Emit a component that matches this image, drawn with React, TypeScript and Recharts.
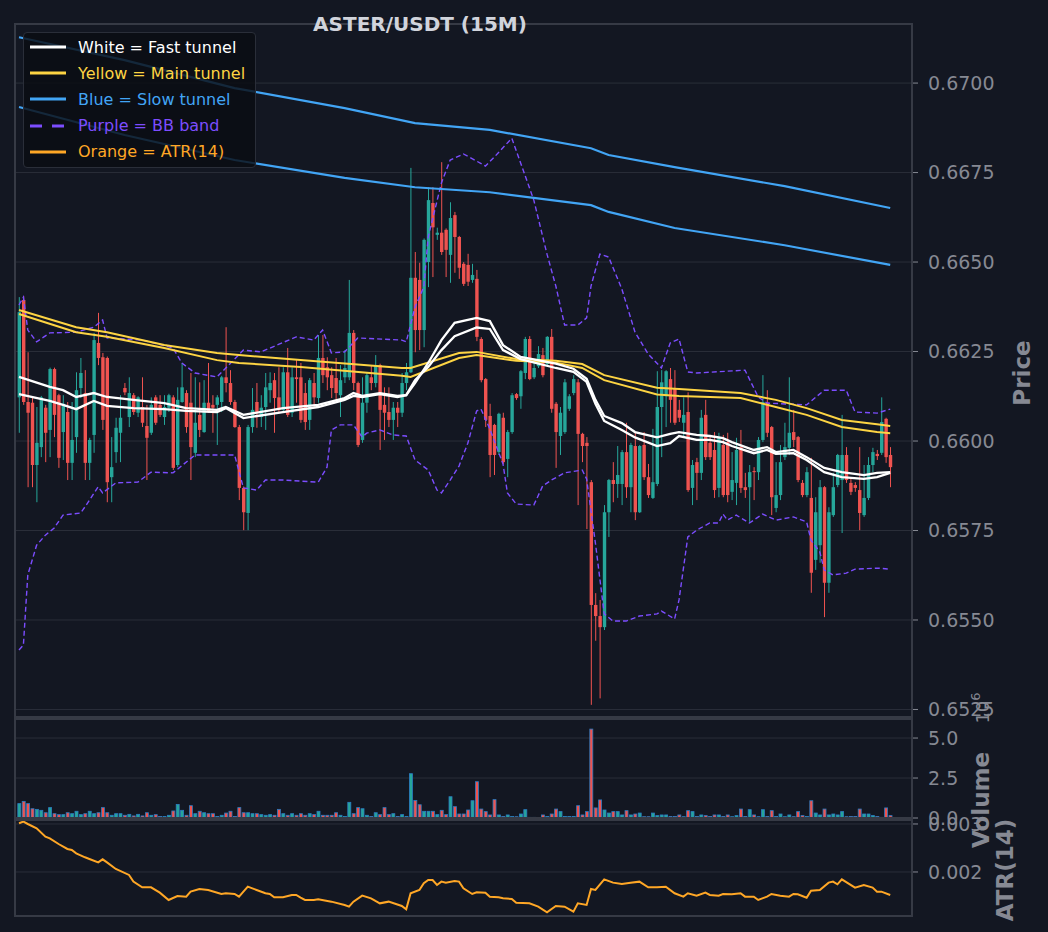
// ASTER/USDT 15m: candles with tunnels and BB, volume and ATR(14) panels stacked below.
import { Bar, CartesianGrid, ComposedChart, Line, XAxis, YAxis } from 'recharts';

// [open, high, low, close] per 15m candle
const candles: [number, number, number, number][] = [
  [.66122,.66402,.66023,.66360],[.66394,.66405,.66101,.66109],[.66109,.66248,.65871,.66079],[.66107,.66122,.65871,.65933],
  [.65933,.66095,.65829,.65995],[.65983,.66126,.65955,.66122],[.66093,.66101,.65941,.66023],[.66031,.66205,.65955,.66201],
  [.66201,.66205,.66011,.66073],[.66128,.66132,.65925,.65953],[.66025,.66128,.65947,.66104],[.66081,.66109,.65891,.65939],
  [.65939,.66109,.65891,.66003],[.66011,.66192,.65967,.66142],[.66148,.66232,.66120,.66190],[.66134,.66198,.65891,.65939],
  [.65939,.66009,.65891,.66003],[.66017,.66302,.65967,.66282],[.66274,.66358,.66212,.66232],[.66234,.66246,.66031,.66059],
  [.66232,.66236,.65829,.65885],[.65899,.66011,.65829,.65927],[.65969,.66065,.65939,.66037],[.66023,.66128,.65941,.66065],
  [.66148,.66162,.66128,.66136],[.66067,.66178,.66039,.66134],[.66128,.66134,.66073,.66081],[.66079,.66125,.66067,.66122],
  [.66095,.66178,.66039,.66051],[.66042,.66101,.65891,.66009],[.66023,.66122,.66017,.66101],[.66122,.66128,.66045,.66051],
  [.66101,.66128,.66067,.66073],[.66067,.66128,.66045,.66095],[.66093,.66132,.66081,.66128],[.66122,.66128,.65919,.65925],
  [.65933,.66150,.65927,.66115],[.66109,.66218,.66107,.66150],[.66134,.66142,.66023,.66039],[.66107,.66190,.65891,.65983],
  [.65967,.66178,.65955,.66051],[.66073,.66164,.66011,.66031],[.66025,.66170,.66023,.66107],[.66107,.66218,.66079,.66081],
  [.66101,.66128,.66023,.66093],[.66101,.66128,.65989,.66122],[.66109,.66182,.66081,.66178],[.66178,.66318,.66136,.66162],
  [.66162,.66198,.66101,.66109],[.66109,.66115,.66037,.66039],[.66039,.66045,.65835,.65869],[.65869,.65873,.65751,.65801],
  [.65799,.66045,.65751,.66039],[.66039,.66148,.66023,.66087],[.66109,.66162,.66037,.66079],[.66067,.66128,.66039,.66093],
  [.66095,.66190,.66031,.66150],[.66142,.66192,.66107,.66162],[.66170,.66190,.66023,.66120],[.66122,.66206,.66079,.66087],
  [.66087,.66206,.66079,.66192],[.66192,.66260,.66067,.66073],[.66079,.66206,.66067,.66178],[.66178,.66226,.66107,.66173],
  [.66178,.66218,.66051,.66059],[.66134,.66162,.66031,.66053],[.66059,.66176,.66031,.66170],[.66162,.66190,.66095,.66122],
  [.66120,.66296,.66107,.66232],[.66232,.66296,.66162,.66184],[.66206,.66234,.66142,.66178],[.66184,.66206,.66120,.66148],
  [.66176,.66232,.66115,.66134],[.66128,.66212,.66067,.66170],[.66178,.66254,.66162,.66204],[.66178,.66450,.66170,.66302],
  [.66302,.66310,.66142,.66162],[.66162,.66166,.65983,.65989],[.66003,.66178,.65995,.66107],[.66107,.66192,.66079,.66184],
  [.66178,.66212,.66142,.66162],[.66162,.66240,.66150,.66212],[.66212,.66216,.65975,.66087],[.66101,.66150,.66003,.66079],
  [.66081,.66150,.66039,.66059],[.66059,.66109,.66003,.66093],[.66093,.66109,.66039,.66079],[.66079,.66190,.66067,.66162],
  [.66162,.66218,.66142,.66192],[.66192,.66763,.66190,.66456],[.66456,.66528,.66248,.66310],[.66450,.66498,.66254,.66310],
  [.66310,.66566,.66262,.66562],[.66500,.66709,.66430,.66673],[.66665,.66709,.66458,.66597],[.66576,.66596,.66562,.66582],
  [.66582,.66779,.66520,.66528],[.66590,.66594,.66458,.66534],[.66520,.66667,.66442,.66623],[.66631,.66640,.66470,.66570],
  [.66570,.66573,.66453,.66484],[.66495,.66500,.66433,.66439],[.66492,.66523,.66433,.66445],[.66450,.66495,.66442,.66464],
  [.66453,.66478,.66279,.66291],[.66285,.66290,.66164,.66170],[.66173,.66176,.66039,.66059],[.66070,.66104,.65899,.65961],
  [.66045,.66048,.65905,.65961],[.65969,.66079,.65961,.66076],[.66065,.66079,.65936,.65941],[.65950,.66031,.65899,.66025],
  [.66025,.66134,.66020,.66128],[.66131,.66134,.66115,.66120],[.66125,.66198,.66090,.66195],[.66190,.66291,.66173,.66285],
  [.66285,.66293,.66170,.66173],[.66178,.66223,.66173,.66204],[.66209,.66265,.66204,.66243],[.66240,.66260,.66178,.66184],
  [.66215,.66293,.66209,.66291],[.66291,.66313,.66079,.66090],[.66104,.66109,.65925,.66025],[.66014,.66095,.65961,.66079],
  [.66025,.66173,.66020,.66164],[.66090,.66131,.66084,.66125],[.66134,.66184,.66128,.66173],[.66164,.66173,.65821,.66020],
  [.66020,.66023,.65941,.65986],[.65995,.66011,.65754,.65986],[.65885,.65891,.65263,.65542],[.65542,.65575,.65442,.65511],
  [.65511,.65556,.65281,.65480],[.65480,.65821,.65472,.65801],[.65801,.65894,.65732,.65891],[.65891,.65941,.65829,.65880],
  [.65880,.65986,.65841,.65905],[.65880,.65975,.65821,.65969],[.65969,.66051,.65841,.65871],[.65871,.65995,.65801,.65989],
  [.65986,.66025,.65779,.65801],[.65801,.65989,.65799,.65986],[.65989,.66025,.65891,.65899],[.65899,.65936,.65841,.65849],
  [.65841,.66034,.65838,.65885],[.65880,.66195,.65874,.66095],[.66095,.66198,.65955,.66164],[.66125,.66198,.66039,.66195],
  [.66173,.66204,.66051,.66115],[.66148,.66198,.66045,.66051],[.66087,.66115,.66053,.66065],[.66051,.66122,.66011,.66073],
  [.66081,.66136,.65858,.65863],[.65869,.65947,.65821,.65933],[.65941,.65953,.65835,.65911],[.65911,.66087,.65891,.66065],
  [.66073,.66115,.65947,.65955],[.65995,.66017,.65947,.65955],[.65975,.66025,.65841,.65863],[.65869,.66023,.65843,.66009],
  [.65989,.66017,.65843,.65849],[.65997,.66023,.65829,.65849],[.65858,.65969,.65835,.65891],[.65883,.66009,.65821,.65975],
  [.65983,.66031,.65855,.65869],[.65871,.65911,.65841,.65863],[.65871,.65933,.65774,.65913],[.65916,.65927,.65835,.65913],
  [.65913,.66011,.65891,.66003],[.66003,.66184,.65997,.66109],[.66107,.66142,.66011,.66023],[.66039,.66042,.65793,.65843],
  [.65813,.65941,.65801,.65849],[.65849,.65989,.65835,.65941],[.65955,.66051,.65947,.65983],[.65981,.66178,.65961,.66023],
  [.66025,.66087,.65983,.66003],[.66011,.66014,.65885,.65891],[.65883,.65891,.65843,.65849],[.65849,.65927,.65843,.65913],
  [.65841,.65953,.65576,.65632],[.65668,.65843,.65640,.65801],[.65709,.65891,.65660,.65871],[.65871,.65874,.65508,.65604],
  [.65604,.65815,.65576,.65801],[.65793,.65911,.65788,.65871],[.65877,.65964,.65871,.65961],[.65891,.66073,.65743,.65961],
  [.65961,.65983,.65883,.65891],[.65883,.65897,.65849,.65858],[.65877,.65885,.65858,.65869],[.65863,.65983,.65751,.65799],
  [.65793,.65933,.65788,.65841],[.65841,.65955,.65835,.65933],[.65933,.65981,.65913,.65969],[.65964,.65975,.65947,.65958],
  [.65967,.66122,.65961,.66053],[.66062,.66065,.65939,.65955],[.65961,.65983,.65871,.65927],
];

// volume per candle, in millions
const volumes = [
  .9,1.04,.9,.58,.54,.48,.33,.65,.27,.21, .21,.33,.27,.42,.21,.27,.42,.27,.33,.65,
  .33,.17,.27,.27,.17,.23,.13,.23,.13,.33, .17,.21,.1,.1,.17,.44,.85,.48,.17,.77,
  .27,.42,.33,.27,.27,.1,.17,.31,.42,.1, .65,.33,.33,.27,.27,.21,.17,.21,.17,.54,
  .27,.17,.27,.17,.27,.17,.27,.21,.42,.17, .17,.17,.33,.17,.1,.98,.27,.65,.58,.17,
  .1,.33,.21,.65,.21,.27,.1,.21,.1,2.77, 1.1,.83,.42,.42,.42,.21,.48,.21,1.33,.71,
  .25,.25,.5,1.08,2.27,.56,.4,.19,1.15,.19, .1,.19,.1,.08,.25,.52,.04,.04,.02,.19,
  .1,.25,.56,.4,.1,.1,.1,.77,.19,.4, 5.56,.63,1.13,.5,.31,.4,.4,.19,.46,.19,
  .25,.31,.08,.08,.31,.15,.19,.19,.1,.1, .19,.08,.46,.4,.1,.19,.15,.1,.19,.19,
  .1,.19,.08,.15,.56,.1,.52,.19,.08,.52, .1,.46,.1,.25,.08,.19,.08,.4,.15,.1,
  1.08,.31,.19,.56,.19,.25,.19,.4,.08,.1, .1,.56,.25,.25,.15,.1,.04,.63,.15,
];

// line series as [candle index, value]
const slowUpper: [number, number][] = [[0,.67128],[24,.67064],[49,.66986],[74,.66930],[90,.66888],[107,.66869],[130,.66818],[134,.66799],[149,.66765],[174,.66712],[198,.66651]];
const slowLower: [number, number][] = [[0,.66933],[24,.66855],[49,.66785],[74,.66735],[90,.66709],[107,.66695],[130,.66659],[134,.66640],[149,.66595],[174,.66547],[198,.66492]];

const mainIdx = [0,13,20,33,45,50,64,87,89,100,104,113,122,128,133,145,150,164,172,179,187,195,198];
const mainUpperVals = [.66366,.66318,.66304,.66268,.66246,.66240,.66226,.66204,.66204,.66246,.66249,.66229,.66224,.66215,.66184,.66149,.66145,.66134,.66115,.66092,.66059,.66047,.66042];
const mainLowerVals = [.66355,.66304,.66291,.66260,.66226,.66218,.66207,.66182,.66179,.66232,.66240,.66224,.66219,.66204,.66170,.66130,.66126,.66120,.66095,.66073,.66039,.66025,.66022];

const fastIdx = [0,7,10,13,17,20,26,33,38,45,47,51,60,68,74,76,78,82,86,88,90,93,96,99,104,107,110,114,122,126,129,131,133,137,140,145,148,150,154,157,160,162,167,170,172,176,179,183,187,192,195,198];
const fastUpperVals = [.66179,.66151,.66142,.66123,.66134,.66123,.66115,.66106,.66092,.66087,.66095,.66073,.66092,.66101,.66120,.66134,.66126,.66134,.66126,.66128,.66162,.66218,.66282,.66330,.66344,.66335,.66268,.66235,.66216,.66202,.66174,.66115,.66070,.66050,.66025,.66010,.66020,.66025,.66017,.66014,.66008,.65997,.65975,.65983,.65969,.65975,.65955,.65925,.65913,.65905,.65911,.65913];
const fastLowerVals = [.66131,.66112,.66101,.66089,.66112,.66098,.66092,.66089,.66084,.66081,.66092,.66064,.66081,.66095,.66115,.66126,.66123,.66131,.66123,.66128,.66170,.66207,.66254,.66293,.66317,.66313,.66254,.66229,.66204,.66193,.66165,.66104,.66056,.66031,.66010,.65986,.65994,.66014,.66003,.66003,.65997,.65986,.65966,.65975,.65964,.65966,.65947,.65913,.65899,.65894,.65899,.65911];

const bbUpper: [number, number][] = [
  [0,.66380],[1,.66402],[2,.66310],[4,.66277],[7,.66302],[13,.66304],[17,.66318],[19,.66338],[20,.66288],[28,.66282],
  [35,.66260],[37,.66218],[40,.66190],[45,.66179],[47,.66204],[51,.66254],[55,.66249],[63,.66291],[67,.66282],[69,.66310],
  [71,.66246],[74,.66249],[77,.66288],[87,.66282],[88,.66277],[90,.66374],[92,.66430],[93,.66570],[96,.66721],[98,.66785],
  [101,.66802],[104,.66782],[106,.66768],[108,.66793],[112,.66846],[117,.66673],[120,.66522],[122,.66433],[124,.66324],[127,.66324],
  [129,.66344],[130,.66433],[132,.66522],[134,.66514],[137,.66425],[140,.66304],[143,.66243],[146,.66204],[148,.66274],[150,.66285],
  [152,.66193],[154,.66190],[165,.66198],[168,.66123],[170,.66106],[179,.66101],[183,.66142],[188,.66142],[190,.66081],[195,.66078],[198,.66089],
];
const bbLower: [number, number][] = [
  [0,.65416],[1,.65430],[2,.65626],[4,.65709],[6,.65737],[8,.65757],[10,.65793],[14,.65799],[15,.65816],[18,.65872],
  [19,.65855],[22,.65883],[27,.65885],[30,.65913],[35,.65911],[40,.65961],[49,.65961],[51,.65869],[54,.65863],[56,.65891],
  [60,.65891],[68,.65885],[70,.65927],[71,.66031],[73,.66045],[76,.66045],[78,.66011],[79,.66022],[82,.66031],[85,.66017],
  [88,.66014],[90,.65947],[93,.65919],[95,.65863],[96,.65855],[98,.65891],[100,.65930],[102,.65994],[104,.66084],[105,.66089],
  [107,.66034],[110,.65936],[111,.65855],[113,.65824],[117,.65821],[119,.65874],[121,.65891],[124,.65911],[128,.65919],[129,.65894],
  [131,.65715],[133,.65517],[135,.65497],[138,.65497],[141,.65511],[145,.65517],[146,.65525],[149,.65503],[150,.65556],[152,.65732],
  [154,.65751],[157,.65771],[159,.65771],[160,.65796],[161,.65779],[163,.65793],[166,.65771],[169,.65796],[172,.65779],[176,.65788],
  [179,.65774],[180,.65723],[182,.65690],[183,.65640],[185,.65626],[188,.65631],[190,.65642],[195,.65645],[198,.65642],
];

const atr14: [number, number][] = [
  [0,.003014],[1,.003048],[2,.003000],[4,.002910],[6,.002736],[7,.002701],[9,.002583],[11,.002479],[12,.002458],[13,.002389],
  [15,.002306],[16,.002271],[18,.002201],[19,.002264],[20,.002201],[22,.002063],[25,.001938],[26,.001799],[28,.001681],[30,.001681],
  [32,.001569],[34,.001417],[36,.001500],[38,.001486],[39,.001590],[41,.001646],[43,.001625],[46,.001542],[47,.001556],[49,.001542],
  [50,.001486],[51,.001590],[52,.001694],[54,.001625],[56,.001556],[57,.001542],[58,.001472],[60,.001472],[62,.001521],[63,.001521],
  [64,.001465],[65,.001417],[67,.001417],[68,.001431],[71,.001382],[74,.001313],[75,.001278],[76,.001382],[78,.001507],[80,.001451],
  [81,.001396],[82,.001347],[84,.001382],[87,.001292],[88,.001222],[89,.001556],[91,.001625],[92,.001764],[93,.001833],[94,.001833],
  [95,.001729],[96,.001799],[97,.001778],[99,.001813],[100,.001799],[101,.001660],[103,.001542],[104,.001576],[106,.001569],[107,.001486],
  [109,.001472],[110,.001451],[112,.001438],[113,.001361],[116,.001347],[118,.001278],[120,.001160],[122,.001292],[124,.001278],[126,.001174],
  [127,.001347],[129,.001313],[130,.001646],[131,.001625],[133,.001847],[135,.001778],[137,.001750],[139,.001778],[141,.001799],[143,.001681],
  [145,.001681],[147,.001694],[149,.001556],[151,.001486],[152,.001556],[154,.001507],[156,.001569],[157,.001521],[159,.001507],[160,.001542],
  [162,.001535],[164,.001556],[165,.001486],[167,.001486],[168,.001417],[170,.001486],[171,.001542],[173,.001507],[175,.001486],[176,.001542],
  [177,.001535],[179,.001465],[180,.001611],[182,.001625],[184,.001778],[185,.001799],[186,.001743],[187,.001847],[190,.001674],[192,.001729],
  [194,.001674],[195,.001590],[196,.001590],[198,.001521],
];

const xDomain = [-0.91, 202.95];
const xGrid = [24.1, 49.1, 74.1, 99.1, 124.1, 149.1, 174.1, 199.1];
const priceDomain = [0.65229, 0.67165];
const priceTicks = [0.6525, 0.655, 0.6575, 0.66, 0.6625, 0.665, 0.6675, 0.67];
const volDomain = [0, 6.19];
const volTicks = [0, 2.5, 5];
const atrDomain = [0.001083, 0.003083];
const atrTicks = [0.002, 0.003];

const UP = '#26a69a';
const DOWN = '#ef5350';
const GRID = '#2a2e39';
const FRAME = '#363a45';
const MUTED = '#868993';
const FONT = 'DejaVu Sans';

const legendItems = [
  { label: 'White = Fast tunnel', color: '#ffffff', dash: false },
  { label: 'Yellow = Main tunnel', color: '#fdd443', dash: false },
  { label: 'Blue = Slow tunnel', color: '#42a5f5', dash: false },
  { label: 'Purple = BB band', color: '#7c4dff', dash: true },
  { label: 'Orange = ATR(14)', color: '#ffa726', dash: false },
];

type Row = Record<string, number | null>;
const rows: Row[] = candles.map(([o, h, l, c], i) => ({
  i, o, h, l, c, vol: volumes[i] ?? 0,
  fastA: null, fastB: null, mainA: null, mainB: null, slowA: null, slowB: null, bbUp: null, bbLo: null, atr: null,
}));
const put = (key: string, pts: [number, number][]) => pts.forEach(([i, v]) => { if (rows[i]) rows[i][key] = v; });
put('slowA', slowUpper);
put('slowB', slowLower);
put('mainA', mainIdx.map((i, k) => [i, mainUpperVals[k]] as [number, number]));
put('mainB', mainIdx.map((i, k) => [i, mainLowerVals[k]] as [number, number]));
put('fastA', fastIdx.map((i, k) => [i, fastUpperVals[k]] as [number, number]));
put('fastB', fastIdx.map((i, k) => [i, fastLowerVals[k]] as [number, number]));
put('bbUp', bbUpper);
put('bbLo', bbLower);
put('atr', atr14);

function Candle(props: any) {
  const { x, y, width, height, payload } = props;
  const { o, h, l, c } = payload;
  const top = Math.min(y, y + height);
  const span = Math.abs(height);
  const px = (v: number) => (h === l ? top : top + ((h - v) / (h - l)) * span);
  const cx = x + width / 2;
  const color = c >= o ? UP : DOWN;
  const b0 = px(Math.max(o, c));
  const b1 = px(Math.min(o, c));
  return (
    <g>
      <line x1={cx} x2={cx} y1={top} y2={top + span} stroke={color} strokeWidth={1} />
      <rect x={cx - 1.7} y={b0} width={3.4} height={Math.max(b1 - b0, 1)} fill={color} />
    </g>
  );
}

function VolBar(props: any) {
  const { x, y, width, height, payload } = props;
  if (!height || height <= 0) return <g />;
  return <rect x={x} y={y} width={width} height={height} fill={payload.c >= payload.o ? UP : DOWN} stroke="#2b7cc2" strokeWidth={0.8} />;
}

const tickStyle = { fill: MUTED, fontSize: 19, fontFamily: FONT };
const axisX = (
  <XAxis dataKey="i" type="number" domain={xDomain} ticks={xGrid} allowDataOverflow tick={false} tickLine={false} axisLine={false} height={0} />
);

export default function App() {
  const lineProps = { type: 'linear' as const, dot: false, activeDot: false, connectNulls: true, isAnimationActive: false };
  return (
    <div style={{ position: 'absolute', left: 0, top: 0, width: 1048, height: 932, background: '#131722', fontFamily: FONT, overflow: 'hidden' }}>
      {/* tick labels at panel edges overlap the neighbouring panel, as in the original figure */}
      <style>{'.recharts-surface{overflow:visible}'}</style>
      <div style={{ position: 'absolute', left: 15, top: 24 }}>
        <ComposedChart width={1033} height={693} data={rows} margin={{ top: 0, right: 0, bottom: 0, left: 0 }}>
          <CartesianGrid stroke={GRID} />
          {axisX}
          <YAxis orientation="right" width={136} domain={priceDomain} ticks={priceTicks} allowDataOverflow interval={0}
            tickFormatter={(v: number) => v.toFixed(4)} tick={tickStyle} tickLine={{ stroke: MUTED }} tickSize={6} tickMargin={10} axisLine={false} />
          <Bar dataKey={(d: Row) => [d.l, d.h]} shape={Candle} barSize={3} isAnimationActive={false} />
          <Line dataKey="bbUp" stroke="#7c4dff" strokeWidth={1.4} strokeDasharray="5 3" {...lineProps} />
          <Line dataKey="bbLo" stroke="#7c4dff" strokeWidth={1.4} strokeDasharray="5 3" {...lineProps} />
          <Line dataKey="slowA" stroke="#42a5f5" strokeWidth={2.2} {...lineProps} />
          <Line dataKey="slowB" stroke="#42a5f5" strokeWidth={2.2} {...lineProps} />
          <Line dataKey="mainA" stroke="#fdd443" strokeWidth={2} {...lineProps} />
          <Line dataKey="mainB" stroke="#fdd443" strokeWidth={2} {...lineProps} />
          <Line dataKey="fastA" stroke="#ffffff" strokeWidth={2.3} {...lineProps} />
          <Line dataKey="fastB" stroke="#ffffff" strokeWidth={2.3} {...lineProps} />
        </ComposedChart>
      </div>

      <div style={{ position: 'absolute', left: 15, top: 719 }}>
        <ComposedChart width={1033} height={99} data={rows} margin={{ top: 0, right: 0, bottom: 0, left: 0 }}>
          <CartesianGrid stroke={GRID} />
          {axisX}
          <YAxis orientation="right" width={136} domain={volDomain} ticks={volTicks} allowDataOverflow interval={0}
            tickFormatter={(v: number) => v.toFixed(1)} tick={tickStyle} tickLine={{ stroke: MUTED }} tickSize={6} tickMargin={10} axisLine={false} />
          <Bar dataKey="vol" shape={VolBar} barSize={3} isAnimationActive={false} />
        </ComposedChart>
      </div>

      <div style={{ position: 'absolute', left: 15, top: 820 }}>
        <ComposedChart width={1033} height={96} data={rows} margin={{ top: 0, right: 0, bottom: 0, left: 0 }}>
          <CartesianGrid stroke={GRID} />
          {axisX}
          <YAxis orientation="right" width={136} domain={atrDomain} ticks={atrTicks} allowDataOverflow interval={0}
            tickFormatter={(v: number) => v.toFixed(3)} tick={tickStyle} tickLine={{ stroke: MUTED }} tickSize={6} tickMargin={10} axisLine={false} />
          <Line dataKey="atr" stroke="#ffa726" strokeWidth={2} {...lineProps} />
        </ComposedChart>
      </div>

      <svg width={1048} height={932} style={{ position: 'absolute', left: 0, top: 0, pointerEvents: 'none' }} fontFamily={FONT}>
        <rect x={15} y={24} width={897} height={693} fill="none" stroke={FRAME} strokeWidth={2} />
        <rect x={15} y={719} width={897} height={99} fill="none" stroke={FRAME} strokeWidth={2} />
        <rect x={15} y={820} width={897} height={96} fill="none" stroke={FRAME} strokeWidth={2} />
        <text x={420} y={31} textAnchor="middle" fontSize={20} fontWeight="bold" fill="#d1d4dc">ASTER/USDT (15M)</text>
        <text transform="translate(1022,373) rotate(-90)" textAnchor="middle" dominantBaseline="central" fontSize={23} fontWeight="bold" fill={MUTED}>Price</text>
        <text transform="translate(981,800) rotate(-90)" textAnchor="middle" dominantBaseline="central" fontSize={23} fontWeight="bold" fill={MUTED}>Volume</text>
        <text transform="translate(1005,870) rotate(-90)" textAnchor="middle" dominantBaseline="central" fontSize={23} fontWeight="bold" fill={MUTED}>ATR(14)</text>
        <text transform="translate(982,708) rotate(-90)" textAnchor="middle" dominantBaseline="central" fontSize={18} fill={MUTED}>
          10<tspan dy={-7} fontSize={13}>6</tspan>
        </text>
      </svg>

      <div style={{ position: 'absolute', left: 23, top: 32, width: 233, height: 136, boxSizing: 'border-box', background: 'rgba(10,12,18,0.82)', border: '1px solid #2a2e39', borderRadius: 4, paddingTop: 1 }}>
        {legendItems.map((it) => (
          <div key={it.label} style={{ display: 'flex', alignItems: 'center', height: 26.2, paddingLeft: 4 }}>
            <svg width={38} height={6} style={{ flex: 'none' }}>
              <line x1={2} x2={38} y1={3} y2={3} stroke={it.color} strokeWidth={3} strokeDasharray={it.dash ? '12 10' : undefined} />
            </svg>
            <span style={{ marginLeft: 12, fontSize: 16, color: it.color, whiteSpace: 'nowrap' }}>{it.label}</span>
          </div>
        ))}
      </div>
    </div>
  );
}
